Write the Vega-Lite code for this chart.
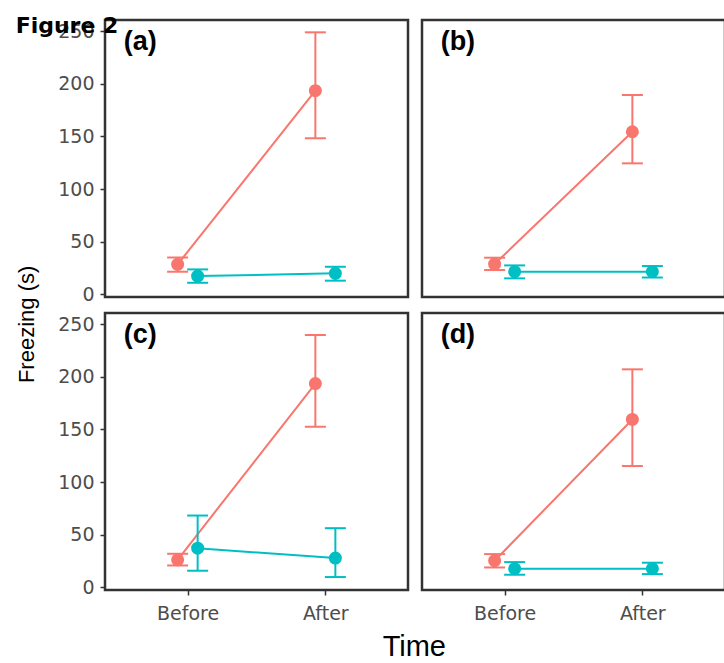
{
  "$schema": "https://vega.github.io/schema/vega-lite/v6.json",
  "background": "white",
  "padding": {"left": 14, "top": 13, "right": 0, "bottom": 0},
  "bounds": "flush",
  "data": {"values": [
    {"panel": "(a)", "r": "1", "c": "1", "time": "Before", "group": "Group 1", "mean": 28.5, "lo": 21.5, "hi": 35},
    {"panel": "(a)", "r": "1", "c": "1", "time": "After", "group": "Group 1", "mean": 193.4, "lo": 148.2, "hi": 248.8},
    {"panel": "(a)", "r": "1", "c": "1", "time": "Before", "group": "Group 2", "mean": 17.4, "lo": 11, "hi": 23.7},
    {"panel": "(a)", "r": "1", "c": "1", "time": "After", "group": "Group 2", "mean": 20, "lo": 13, "hi": 26.2},
    {"panel": "(b)", "r": "1", "c": "2", "time": "Before", "group": "Group 1", "mean": 28.8, "lo": 23.1, "hi": 34.8},
    {"panel": "(b)", "r": "1", "c": "2", "time": "After", "group": "Group 1", "mean": 154.4, "lo": 124.4, "hi": 189.3},
    {"panel": "(b)", "r": "1", "c": "2", "time": "Before", "group": "Group 2", "mean": 21.5, "lo": 15.2, "hi": 27.5},
    {"panel": "(b)", "r": "1", "c": "2", "time": "After", "group": "Group 2", "mean": 21.5, "lo": 16, "hi": 26.9},
    {"panel": "(c)", "r": "2", "c": "1", "time": "Before", "group": "Group 1", "mean": 26.2, "lo": 20.8, "hi": 31.9},
    {"panel": "(c)", "r": "2", "c": "1", "time": "After", "group": "Group 1", "mean": 193.5, "lo": 152.5, "hi": 239.6},
    {"panel": "(c)", "r": "2", "c": "1", "time": "Before", "group": "Group 2", "mean": 37.2, "lo": 15.8, "hi": 68.2},
    {"panel": "(c)", "r": "2", "c": "1", "time": "After", "group": "Group 2", "mean": 27.8, "lo": 9.8, "hi": 56.2},
    {"panel": "(d)", "r": "2", "c": "2", "time": "Before", "group": "Group 1", "mean": 25.3, "lo": 18.9, "hi": 31.6},
    {"panel": "(d)", "r": "2", "c": "2", "time": "After", "group": "Group 1", "mean": 159.4, "lo": 115.2, "hi": 207},
    {"panel": "(d)", "r": "2", "c": "2", "time": "Before", "group": "Group 2", "mean": 17.7, "lo": 12, "hi": 24},
    {"panel": "(d)", "r": "2", "c": "2", "time": "After", "group": "Group 2", "mean": 17.7, "lo": 12.6, "hi": 23.4}
  ]},
  "facet": {
    "row": {"field": "r", "type": "nominal", "header": {"title": "Freezing (s)\u00a0\u00a0\u00a0\u00a0\u00a0\u00a0\u00a0\u200b", "labels": false, "titleFont": "Liberation Sans", "titleFontSize": 22, "titleFontWeight": "normal", "titleColor": "black", "titlePadding": 8}},
    "column": {"field": "c", "type": "nominal", "header": {"title": "\u200b\u00a0\u00a0\u00a0\u00a0\u00a0\u00a0\u00a0\u00a0\u00a0\u00a0\u00a0Time", "labels": false, "titleOrient": "bottom", "titleFont": "Liberation Sans", "titleFontSize": 29, "titleFontWeight": "normal", "titleColor": "black", "titlePadding": 0}}
  },
  "spacing": {"row": 16, "column": 14},
  "spec": {
    "width": 303,
    "height": 277,
    "encoding": {
      "x": {"field": "time", "type": "nominal", "title": null, "scale": {"type": "point", "domain": ["Before", "After"], "padding": 0.6}},
      "xOffset": {"field": "group", "type": "nominal", "scale": {"type": "point", "domain": ["Group 1", "Group 2"], "range": [-10, 10], "padding": 0}},
      "color": {"field": "group", "type": "nominal", "scale": {"domain": ["Group 1", "Group 2"], "range": ["#F8766D", "#00BFC4"]}, "legend": null}
    },
    "layer": [
      {"mark": {"type": "line", "strokeWidth": 2}, "encoding": {"y": {"field": "mean", "type": "quantitative", "title": null, "scale": {"domain": [-2.5, 260.5], "nice": false, "zero": false}, "axis": {"values": [0, 50, 100, 150, 200, 250]}}}},
      {"mark": {"type": "rule", "strokeWidth": 2}, "encoding": {"y": {"field": "lo", "type": "quantitative", "title": null}, "y2": {"field": "hi"}}},
      {"mark": {"type": "tick", "orient": "horizontal", "size": 21, "thickness": 2, "opacity": 1}, "encoding": {"y": {"field": "lo", "type": "quantitative", "title": null}}},
      {"mark": {"type": "tick", "orient": "horizontal", "size": 21, "thickness": 2, "opacity": 1}, "encoding": {"y": {"field": "hi", "type": "quantitative", "title": null}}},
      {"mark": {"type": "circle", "size": 170, "opacity": 1}, "encoding": {"y": {"field": "mean", "type": "quantitative", "title": null}}},
      {"transform": [{"filter": "datum.time == 'Before' && datum.group == 'Group 1'"}],
       "mark": {"type": "text", "align": "left", "baseline": "middle", "dx": -54, "font": "Liberation Sans", "fontSize": 27, "fontWeight": "bold"},
       "encoding": {"x": {"datum": "Before"}, "y": {"datum": 240}, "text": {"field": "panel"}, "color": {"value": "black"}}},
      {"transform": [{"filter": "datum.panel == '(a)' && datum.time == 'Before' && datum.group == 'Group 1'"}],
       "mark": {"type": "text", "align": "left", "baseline": "alphabetic", "dx": -162, "font": "DejaVu Sans", "fontSize": 22, "fontWeight": "bold"},
       "encoding": {"x": {"datum": "Before"}, "y": {"datum": 248}, "text": {"value": "Figure 2"}, "color": {"value": "black"}}}
    ]
  },
  "config": {
    "view": {"stroke": "#333333", "strokeWidth": 2.5},
    "axis": {"domain": false, "grid": false, "ticks": true, "tickColor": "#333333", "tickWidth": 1.5, "tickSize": 5, "labelFont": "DejaVu Sans", "labelFontSize": 19, "labelColor": "#4D4D4D", "labelPadding": 6},
    "axisX": {"labelPadding": 9, "labelAngle": 0}
  }
}
